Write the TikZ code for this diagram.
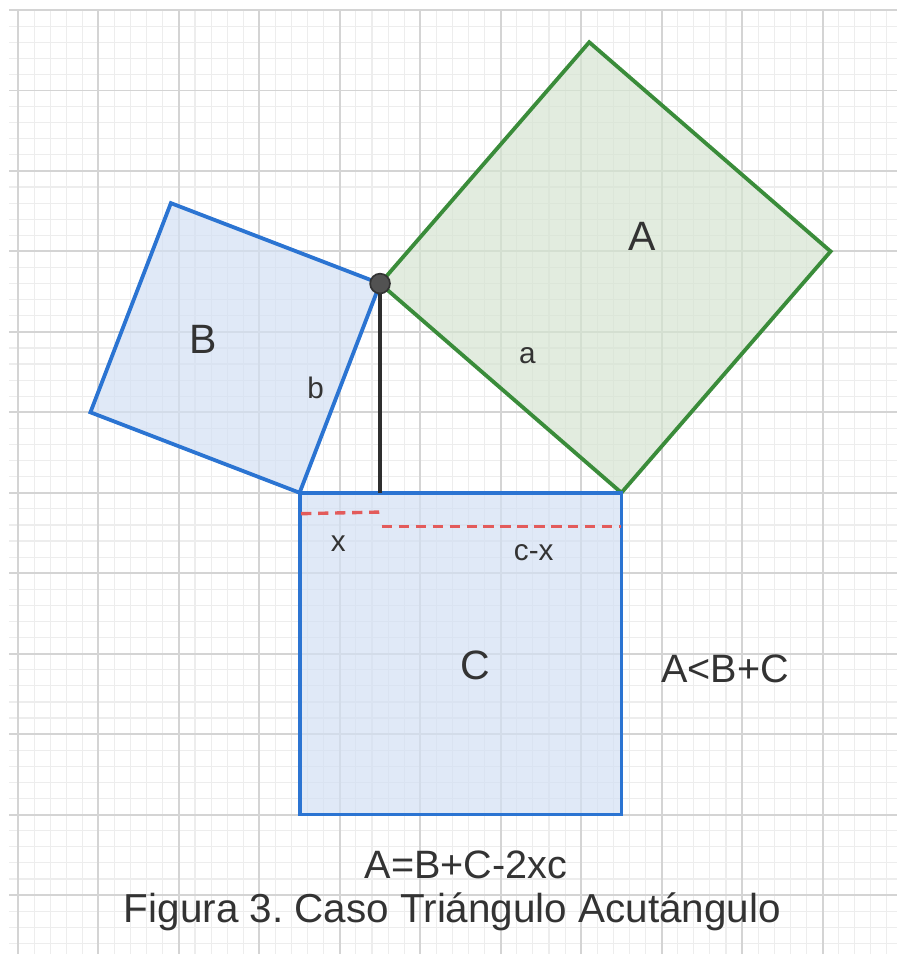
\documentclass[tikz,border=0pt]{standalone}
\usepackage{fontspec}
\setmainfont{Liberation Sans}
\usetikzlibrary{calc}
\definecolor{ink}{HTML}{333333}
\definecolor{gridmajor}{HTML}{D4D4D4}
\definecolor{gridminor}{HTML}{EDEDED}
\definecolor{sqblue}{HTML}{2B74D2}
\definecolor{sqbluefill}{HTML}{D3E0F3}
\definecolor{sqgreen}{HTML}{3A8C3A}
\definecolor{sqgreenfill}{HTML}{D5E4D1}
\definecolor{cutred}{HTML}{E35B5B}
\frenchspacing

\begin{document}
\begin{tikzpicture}[
  bluesq/.style={draw=sqblue,line width=1.35pt,fill=sqbluefill,fill opacity=0.7},
  greensq/.style={draw=sqgreen,line width=1.35pt,fill=sqgreenfill,fill opacity=0.7},
  cutline/.style={draw=cutred,line width=1.2pt,dash pattern=on 3.6pt off 2.4pt},
  bigtag/.style={text=ink,inner sep=0pt,font=\fontsize{14.5}{17}\selectfont},
  smalltag/.style={text=ink,inner sep=0pt,font=\fontsize{10.5}{12}\selectfont},
  eqtag/.style={text=ink,inner sep=0pt,font=\fontsize{14}{16}\selectfont}
]
\useasboundingbox (-0.224,-0.733) rectangle (10.926,11.125);
\draw[gridminor,line width=0.4pt,step=0.2] (-0.11,-0.733) grid (10.926,11);
\draw[gridmajor,line width=0.7pt,step=1] (-0.11,-0.733) grid (10.926,11);

\coordinate (P) at (4.5,7.6);
\coordinate (R) at (3.5,5);
\coordinate (Q) at (7.5,5);
\coordinate (H) at (4.5,5);
\coordinate (A1) at ($(Q)+(2.6,3)$);
\coordinate (A2) at ($(P)+(2.6,3)$);
\coordinate (B1) at ($(R)+(-2.6,1)$);
\coordinate (B2) at ($(P)+(-2.6,1)$);
\coordinate (C1) at (7.5,1);
\coordinate (C2) at (3.5,1);
\coordinate (x0) at (3.52,4.74);
\coordinate (x1) at (4.5,4.76);
\coordinate (cx0) at (4.52,4.58);
\coordinate (cx1) at (7.5,4.58);

\draw[greensq] (P) -- (Q) -- (A1) -- (A2) -- cycle;
\draw[bluesq] (R) -- (P) -- (B2) -- (B1) -- cycle;
\draw[bluesq] (R) -- (Q) -- (C1) -- (C2) -- cycle;
\draw[ink!90!black,line width=1.2pt] (P) -- (H);
\draw[cutline] (x0) -- (x1);
\draw[cutline] (cx0) -- (cx1);
\node[circle,draw=black!80,fill=ink!85,line width=0.6pt,minimum size=7pt,inner sep=0pt] (apex) at (P) {};

\node[bigtag] (labA) at (7.76,8.19) {A};
\node[smalltag] (laba) at (6.33,6.71) {a};
\node[bigtag] (labB) at (2.3,6.91) {B};
\node[smalltag] (labb) at (3.7,6.3) {b};
\node[smalltag] (labx) at (3.98,4.37) {x};
\node[smalltag] (labcx) at (6.41,4.25) {c-x};
\node[bigtag] (labC) at (5.68,2.86) {C};
\node[eqtag] (ineq) at (8.79,2.81) {A<B+C};
\node[eqtag] (law) at (5.57,0.37) {A=B+C-2xc};
\node[text=ink,inner sep=0pt,font=\fontsize{14.3}{17}\selectfont] (caption) at (5.4,-0.21) {Figura 3. Caso Triángulo Acutángulo};
\end{tikzpicture}
\end{document}
